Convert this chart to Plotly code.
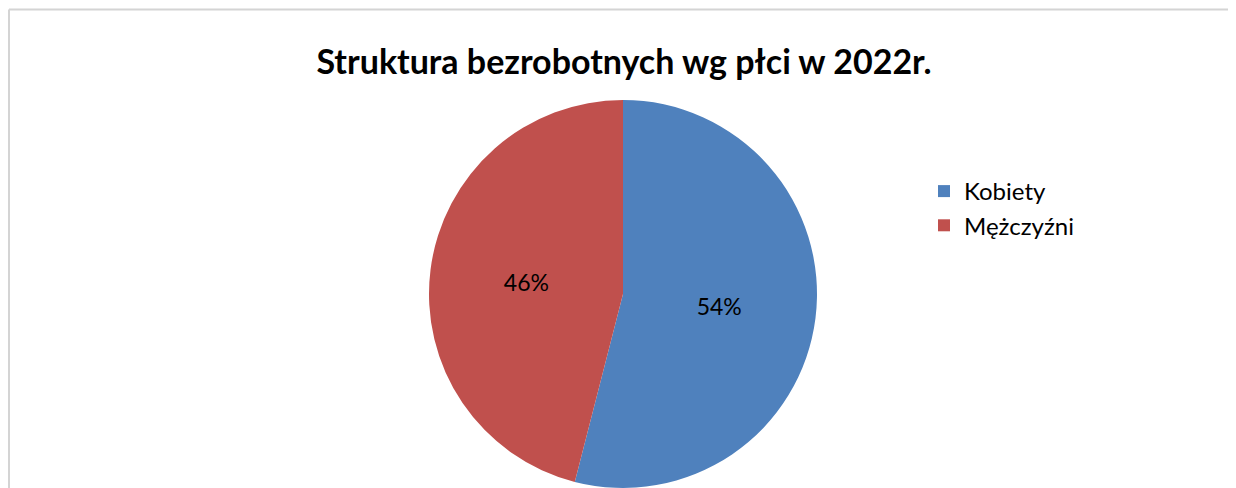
import plotly.graph_objects as go

# dane
kategorie = ["Kobiety", "Mężczyźni"]
udzialy = [54, 46]
kolory = ["#4F81BD", "#C0504D"]
tytul = "Struktura bezrobotnych wg płci w 2022r."

# strona html ma 8px marginesu body - pozycje liczone od lewego górnego rogu figury
W, H = 1236, 480

fig = go.Figure(go.Pie(
    labels=kategorie,
    values=udzialy,
    marker=dict(colors=kolory, line=dict(width=0)),
    sort=False,
    direction="clockwise",
    rotation=0,
    textinfo="percent",
    textposition="inside",
    insidetextorientation="horizontal",
    textfont=dict(family="Lato", size=23, color="#000000"),
    domain=dict(x=[421 / W, 809 / W], y=[0, 1 - 92 / H]),
    hoverinfo="label+percent",
))

# ramka wykresu (tylko lewa i górna krawędź są widoczne)
fig.add_shape(type="line", xref="paper", yref="paper",
              x0=1 / W, x1=1 / W, y0=-0.1, y1=1 - 1.5 / H,
              line=dict(color="#D4D4D4", width=2))
fig.add_shape(type="line", xref="paper", yref="paper",
              x0=1 / W, x1=1.0, y0=1 - 1.5 / H, y1=1 - 1.5 / H,
              line=dict(color="#D4D4D4", width=2))

fig.update_layout(
    width=W, height=H,
    margin=dict(l=0, r=0, t=0, b=0),
    paper_bgcolor="white",
    plot_bgcolor="white",
    font=dict(family="Lato", color="#000000"),
    title=dict(text="<b>" + tytul + "</b>", x=616 / W, xanchor="center",
               y=1 - 54 / H, yanchor="middle",
               font=dict(family="Lato", size=34, color="#000000")),
    legend=dict(x=916 / W, y=1 - 161 / H, xanchor="left", yanchor="top",
                font=dict(family="Lato", size=24, color="#000000"),
                bgcolor="rgba(0,0,0,0)", itemclick=False),
    showlegend=True,
)

fig.write_html("out.html")
